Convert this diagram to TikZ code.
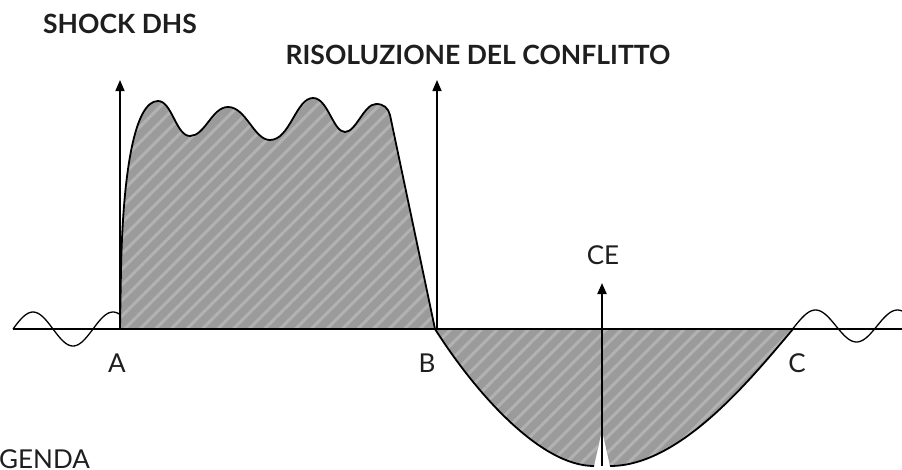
\documentclass[tikz,border=0pt]{standalone}
\usepackage{fontspec}
\setmainfont{Lato}
\usetikzlibrary{arrows.meta,patterns.meta}
\definecolor{shade}{RGB}{155,155,155}
\definecolor{stripe}{RGB}{178,178,178}
\definecolor{ink}{RGB}{30,30,30}
\tikzset{
  title/.style={font=\fontsize{26.5}{30}\selectfont\bfseries, text=ink, inner sep=0pt},
  lbl/.style={font=\fontsize{26}{30}\selectfont, text=ink, inner sep=0pt},
  area/.style={fill=shade},
  hatch/.style={pattern={Lines[angle=45,distance=11pt,line width=3pt]}, pattern color=stripe},
  curve/.style={draw=black, line width=1.8pt, line join=round},
  axisline/.style={draw=black, line width=1.8pt},
  upar/.style={draw=black, line width=1.5pt, -{Triangle[width=9pt,length=11pt]}},
}
\begin{document}
\begin{tikzpicture}[x=1pt,y=-1pt]
\useasboundingbox (0,0) rectangle (902,469);
\clip (0,0) rectangle (902,469);
% key points
\coordinate (pA) at (120,329);
\coordinate (pB) at (435,329);
\coordinate (pC) at (793,329);
\coordinate (L0) at (13,329);
\coordinate (R0) at (902,329);
\coordinate (tipA) at (120,80);
\coordinate (tipB) at (437,80);
\coordinate (baseB) at (437,329);
\coordinate (baseCE) at (602,466);
\coordinate (tipCE) at (602,283);
% positive area
\def\toppath{(pA) -- (121,270) .. controls (123,170) and (135,101) .. (158,101)
 .. controls (172,101) and (176,136) .. (190,136)
 .. controls (205,136) and (212,107) .. (228,107)
 .. controls (246,107) and (254,140) .. (270,140)
 .. controls (290,140) and (296,98) .. (313,98)
 .. controls (328,98) and (333,132) .. (345,132)
 .. controls (356,132) and (364,104) .. (376,104)
 .. controls (384,104) and (388,108) .. (390,115) -- (pB)}
\path[area] \toppath -- cycle;
\path[hatch] \toppath -- cycle;
\draw[curve] \toppath;
% negative area
\def\botpath{(pB) .. controls (475,392) and (540,466) .. (594,466) -- (602,430) -- (610,466) .. controls (680,466) and (750,380) .. (pC) -- cycle}
\path[area] \botpath;
\path[hatch] \botpath;
\draw[curve] (pB) .. controls (475,392) and (540,466) .. (594,466);
\draw[curve] (610,466) .. controls (680,466) and (750,380) .. (pC);
% waves
\draw[curve, line width=1.3pt] plot[domain=13:120,samples=60] (\x,{329-17*sin(4.5*(\x-13))});
\draw[curve, line width=1.3pt] plot[domain=793:902,samples=60] (\x,{326-16*sin(4.39*(\x-795))});
% baseline
\draw[axisline] (L0) -- (R0);
% arrows
\draw[upar] (pA) -- (tipA);
\draw[upar] (baseB) -- (tipB);
\draw[upar, line width=2pt] (baseCE) -- (tipCE);
% texts
\node[title] (t1) at (120,24) {SHOCK DHS};
\node[title] (t2) at (478,55) {RISOLUZIONE DEL CONFLITTO};
\node[lbl] (lA) at (117,363) {A};
\node[lbl] (lB) at (427,363) {B};
\node[lbl] (lC) at (797,363) {C};
\node[lbl] (lCE) at (603,255) {CE};
\node[lbl, anchor=east] (leg) at (90,459) {LEGENDA};
\end{tikzpicture}
\end{document}
